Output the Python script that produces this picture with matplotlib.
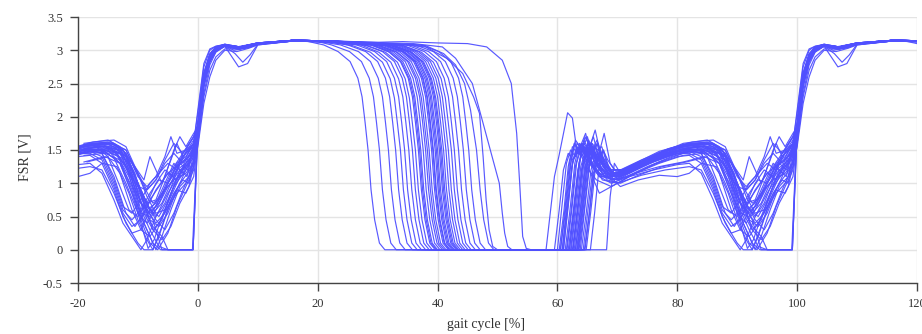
import numpy as np
import matplotlib.pyplot as plt

plt.rcParams['font.family'] = ['Liberation Serif', 'DejaVu Serif']
plt.rcParams['axes.unicode_minus'] = False

# FSR voltage per gait cycle, (gait cycle %, volts) over 0-100 %
cycle_01 = [(0, 1.85), (1, 2.6), (2, 2.92), (3, 3.04), (4.5, 3.08), (7, 3.02), (10, 3.1), (14, 3.14), (18, 3.14), (21, 3.08),
            (23.4, 2.98), (25.4, 2.83), (26.7, 2.58), (27.4, 2.3), (27.9, 1.92), (28.4, 1.5), (28.9, 0.9), (29.5, 0.45), (30.3, 0.1), (31.2, 0),
            (61, 0), (61.8, 0.7), (62.6, 1.35), (63.4, 1.55), (64.3, 1.4), (65.5, 1.3), (67.5, 1.1), (70, 1.15), (74, 1.3), (78, 1.45),
            (82, 1.5), (84, 1.45), (86, 1.1), (88, 0.55), (89.5, 0.35), (91, 0.55), (93, 0.9), (95, 1.15), (97, 1.3), (99.2, 1.45)]
cycle_02 = [(0, 1.8), (1, 2.55), (2, 2.9), (3, 3.03), (4.5, 3.07), (6.5, 3.05), (10, 3.11), (16, 3.15), (20, 3.13),
            (22.3, 3.08), (25.3, 2.98), (27.3, 2.83), (28.6, 2.58), (29.3, 2.3), (29.8, 1.92), (30.3, 1.5), (30.8, 0.9), (31.4, 0.45), (32.2, 0.1), (33.1, 0),
            (62.5, 0), (63.3, 0.6), (64, 1.2), (64.8, 1.45), (65.6, 1.35), (67, 1.15), (69, 1.05), (72, 1.2), (76, 1.35), (80, 1.48),
            (84, 1.5), (86, 1.38), (88, 1.0), (90, 0.55), (91.5, 0.4), (93, 0.6), (95, 0.95), (97, 1.2), (98.2, 1.1), (99.2, 1.5)]
cycle_03 = [(0, 1.75), (1, 2.5), (2, 2.88), (3, 3.02), (4.5, 3.07), (6, 3.03), (8, 3.05), (10, 3.1), (16, 3.15), (21, 3.12),
            (23.8, 3.08), (26.8, 2.98), (28.8, 2.83), (30.1, 2.58), (30.8, 2.3), (31.3, 1.92), (31.8, 1.5), (32.3, 0.9), (32.9, 0.45), (33.7, 0.1), (34.6, 0),
            (60.5, 0), (61.3, 0.55), (62.1, 1.25), (62.9, 1.6), (63.7, 1.45), (64.6, 1.55), (65.8, 1.3), (67.5, 1.05), (70, 1.0), (73, 1.15),
            (77, 1.32), (81, 1.45), (84.5, 1.48), (87, 1.3), (89, 0.85), (90.5, 0.4), (91.7, 0.02), (92.7, 0.15), (94, 0.5), (96, 0.95), (98, 1.2), (99.3, 1.4)]
cycle_04 = [(0, 2.05), (1, 2.75), (2, 3.0), (3, 3.06), (4.5, 3.08), (7, 3.04), (10, 3.1), (16, 3.15), (22, 3.13),
            (25, 3.08), (28, 2.98), (30, 2.83), (31.3, 2.58), (32, 2.3), (32.5, 1.92), (33, 1.5), (33.5, 0.9), (34.1, 0.45), (34.9, 0.1), (35.8, 0),
            (63, 0), (63.8, 0.55), (64.6, 1.2), (65.4, 1.5), (66.2, 1.4), (67.3, 1.2), (69, 1.1), (72, 1.25), (76, 1.4), (80, 1.55),
            (84, 1.58), (87, 1.5), (89, 1.2), (91, 0.75), (92.5, 0.55), (94, 0.7), (95.5, 1.0), (97, 1.3), (98.3, 1.2), (99.2, 1.55)]
cycle_05 = [(0, 1.7), (1, 2.45), (2, 2.82), (3, 2.98), (4.5, 3.06), (6.8, 2.75), (8.3, 2.8), (10, 3.08), (16, 3.14), (22, 3.12),
            (25.8, 3.07), (28.8, 2.97), (30.8, 2.82), (32.1, 2.57), (32.8, 2.28), (33.3, 1.9), (33.8, 1.5), (34.3, 0.9), (34.9, 0.45), (35.7, 0.1), (36.6, 0),
            (59.5, 0), (60.3, 0.6), (61, 1.2), (61.8, 1.45), (62.6, 1.35), (63.6, 1.5), (64.8, 1.25), (66.5, 1.05), (69, 0.95), (72, 1.1),
            (76, 1.28), (80, 1.4), (82, 1.42), (84, 1.3), (86, 0.9), (87.5, 0.5), (89, 0.25), (90.5, 0.3), (92, 0.6), (94, 0.85), (96, 1.05), (98, 1.15), (99.2, 1.3)]
cycle_06 = [(0, 1.82), (1, 2.58), (2, 2.9), (3, 3.03), (4.5, 3.08), (7, 3.05), (10, 3.11), (16, 3.15), (22, 3.13),
            (26.5, 3.08), (29.5, 2.98), (31.5, 2.83), (32.8, 2.58), (33.5, 2.3), (34, 1.92), (34.5, 1.5), (35, 0.9), (35.6, 0.45), (36.4, 0.1), (37.3, 0),
            (62, 0), (62.8, 0.65), (63.6, 1.3), (64.4, 1.6), (65.2, 1.5), (66, 1.55), (67.2, 1.25), (69, 1.1), (72, 1.2), (76, 1.38),
            (80, 1.5), (84, 1.55), (86.5, 1.45), (88.5, 1.15), (90, 0.95), (91.5, 0.9), (93, 1.05), (94.5, 1.3), (96, 1.45), (97.5, 1.3), (99.3, 1.6)]
cycle_07 = [(0, 1.78), (1, 2.52), (2, 2.87), (3, 3.01), (4.5, 3.07), (6.5, 3.03), (10, 3.1), (16, 3.15), (22, 3.13),
            (27.2, 3.08), (30.2, 2.97), (32.2, 2.82), (33.5, 2.57), (34.2, 2.3), (34.7, 1.92), (35.2, 1.5), (35.7, 0.9), (36.3, 0.45), (37.1, 0.1), (38, 0),
            (63.5, 0), (64.3, 0.6), (65.1, 1.25), (65.9, 1.5), (66.8, 1.3), (68.2, 1.1), (70, 1.05), (73, 1.2), (77, 1.38), (81, 1.5),
            (85, 1.5), (87, 1.3), (89, 0.85), (90.5, 0.55), (92, 0.5), (93.5, 0.75), (95, 1.0), (96.5, 1.2), (98, 1.3), (99.3, 1.42)]
cycle_08 = [(0, 1.88), (1, 2.62), (2, 2.93), (3, 3.04), (4.5, 3.08), (7, 3.04), (10, 3.1), (16, 3.15), (22, 3.13),
            (27.8, 3.08), (30.8, 2.98), (32.8, 2.83), (34.1, 2.58), (34.8, 2.3), (35.3, 1.92), (35.8, 1.5), (36.3, 0.9), (36.9, 0.45), (37.7, 0.1), (38.6, 0),
            (60, 0), (60.8, 0.7), (61.5, 1.3), (62.2, 1.5), (63, 1.4), (64, 1.6), (65.2, 1.35), (67, 1.15), (69.5, 1.05), (73, 1.25),
            (77, 1.45), (81, 1.58), (85, 1.62), (87.5, 1.5), (89.5, 1.1), (91, 0.7), (92.5, 0.45), (94, 0.0), (96, 0.0), (99.2, 0)]
cycle_09 = [(0, 1.6), (1, 2.35), (2, 2.78), (3, 2.97), (4.5, 3.06), (6.5, 3.02), (8.5, 3.04), (10, 3.09), (16, 3.14), (22, 3.12),
            (28.3, 3.07), (31.3, 2.97), (33.3, 2.82), (34.6, 2.57), (35.3, 2.28), (35.8, 1.9), (36.3, 1.5), (36.8, 0.9), (37.4, 0.45), (38.2, 0.1), (39.1, 0),
            (64, 0), (64.8, 0.55), (65.6, 1.2), (66.4, 1.45), (67.3, 1.3), (68.5, 1.15), (70.5, 1.1), (74, 1.28), (78, 1.4), (82, 1.48),
            (85.5, 1.45), (88, 1.35), (90, 0.95), (91.5, 0.6), (93, 0.4), (94.5, 0.55), (96, 0.85), (97.5, 1.05), (98.5, 1.0), (99.3, 1.35)]
cycle_10 = [(0, 1.84), (1, 2.6), (2, 2.91), (3, 3.03), (4.5, 3.08), (7, 3.04), (10, 3.1), (16, 3.15), (22, 3.14),
            (28.8, 3.08), (31.8, 2.98), (33.8, 2.83), (35.1, 2.58), (35.8, 2.3), (36.3, 1.92), (36.8, 1.5), (37.3, 0.9), (37.9, 0.45), (38.7, 0.1), (39.6, 0),
            (61.5, 0), (62.3, 0.6), (63, 1.25), (63.8, 1.55), (64.6, 1.4), (65.5, 1.6), (66.5, 1.3), (68, 1.15), (70, 1.1), (73, 1.22),
            (77, 1.4), (81, 1.52), (84.5, 1.55), (87, 1.45), (89, 1.05), (90.5, 0.6), (92, 0.3), (93.5, 0.05), (95, 0.0), (97, 0.0), (99.1, 0)]
cycle_11 = [(0, 1.76), (1, 2.5), (2, 2.86), (3, 3.0), (4.5, 3.07), (6, 3.0), (8, 3.03), (10, 3.09), (16, 3.14), (22, 3.13),
            (29, 3.08), (32, 2.97), (34, 2.82), (35.3, 2.57), (36, 2.3), (36.5, 1.92), (37, 1.5), (37.5, 0.9), (38.1, 0.45), (38.9, 0.1), (39.8, 0),
            (62.8, 0), (63.6, 0.6), (64.4, 1.3), (65.2, 1.65), (66, 1.5), (66.8, 1.6), (67.8, 1.3), (69.5, 1.1), (72, 1.15), (76, 1.32),
            (80, 1.45), (82, 1.48), (84, 1.4), (86, 1.0), (87.5, 0.6), (89, 0.45), (90.5, 0.6), (92, 0.85), (93.5, 1.05), (95, 1.0), (96.5, 1.25), (98, 1.35), (99.3, 1.5)]
cycle_12 = [(0, 1.9), (1, 2.66), (2, 2.95), (3, 3.05), (4.5, 3.09), (7, 3.05), (10, 3.11), (16, 3.15), (22, 3.14),
            (29.2, 3.08), (32.2, 2.98), (34.2, 2.83), (35.5, 2.58), (36.2, 2.3), (36.7, 1.92), (37.2, 1.5), (37.7, 0.9), (38.3, 0.45), (39.1, 0.1), (40, 0),
            (58.1, 0), (59.5, 1.1), (60.3, 1.43), (61.7, 2.06), (62.5, 1.98), (63.3, 1.45), (64.2, 1.55), (65.3, 1.2), (67, 0.85), (70, 1.0),
            (74, 1.12), (78, 1.2), (82, 1.25), (84, 1.2), (86, 0.85), (88, 0.4), (90, 0.1), (91, 0.0), (92.5, 0.0), (94, 0.35), (95.5, 0.75), (97, 1.0), (98.3, 1.15), (99.3, 1.3)]
cycle_13 = [(0, 1.8), (1, 2.55), (2, 2.89), (3, 3.02), (4.5, 3.07), (7, 3.03), (10, 3.1), (16, 3.15), (22, 3.14),
            (29.6, 3.08), (32.6, 2.98), (34.6, 2.83), (35.9, 2.58), (36.6, 2.3), (37.1, 1.92), (37.6, 1.5), (38.1, 0.9), (38.7, 0.45), (39.5, 0.1), (40.4, 0),
            (64.5, 0), (65.3, 0.55), (66, 1.15), (66.8, 1.4), (67.8, 1.75), (68.8, 1.3), (70, 1.15), (73, 1.25), (77, 1.42), (81, 1.55),
            (85, 1.58), (87.5, 1.5), (89.5, 1.25), (91, 1.05), (92, 1.4), (93, 1.2), (94, 1.0), (95.5, 1.35), (96.5, 1.6), (97.5, 1.4), (99.3, 1.65)]
cycle_14 = [(0, 1.86), (1, 2.6), (2, 2.92), (3, 3.04), (4.5, 3.08), (7, 3.04), (10, 3.1), (16, 3.15), (22, 3.14),
            (30, 3.08), (33, 2.98), (35, 2.83), (36.3, 2.58), (37, 2.3), (37.5, 1.92), (38, 1.5), (38.5, 0.9), (39.1, 0.45), (39.9, 0.1), (40.8, 0),
            (61, 0), (61.8, 0.65), (62.5, 1.3), (63.3, 1.6), (64.1, 1.5), (65, 1.7), (66, 1.35), (67.5, 1.15), (70, 1.1), (73, 1.25),
            (77, 1.45), (81, 1.6), (85, 1.65), (87, 1.55), (88.5, 1.2), (90, 0.8), (91.5, 0.55), (93, 0.65), (94.5, 0.95), (96, 1.25), (97.5, 1.45), (99.3, 1.7)]
cycle_15 = [(0, 1.55), (1, 2.2), (2, 2.6), (3, 2.85), (4.5, 3.0), (6.5, 2.98), (8.5, 3.03), (10, 3.08), (16, 3.14), (22, 3.13),
            (30.3, 3.07), (33.3, 2.97), (35.3, 2.82), (36.6, 2.57), (37.3, 2.28), (37.8, 1.9), (38.3, 1.5), (38.8, 0.9), (39.4, 0.45), (40.2, 0.1), (41.1, 0),
            (63.3, 0), (64.1, 0.6), (64.9, 1.25), (65.7, 1.5), (66.6, 1.4), (68, 1.2), (70, 1.15), (74, 1.3), (78, 1.48), (82, 1.58),
            (85.5, 1.6), (87.5, 1.5), (89.5, 1.15), (91, 0.7), (92.5, 0.3), (94, 0.15), (95.5, 0.35), (97, 0.7), (98.5, 0.95), (99.4, 1.3)]
cycle_16 = [(0, 1.83), (1, 2.58), (2, 2.9), (3, 3.03), (4.5, 3.08), (7, 3.05), (10, 3.1), (16, 3.15), (22, 3.14),
            (30.6, 3.08), (33.6, 2.98), (35.6, 2.83), (36.9, 2.58), (37.6, 2.3), (38.1, 1.92), (38.6, 1.5), (39.1, 0.9), (39.7, 0.45), (40.5, 0.1), (41.4, 0),
            (60.8, 0), (61.6, 0.7), (62.3, 1.35), (63, 1.65), (63.8, 1.55), (64.7, 1.75), (65.7, 1.4), (67, 1.2), (69.5, 1.15), (73, 1.3),
            (77, 1.48), (81, 1.58), (83, 1.55), (85, 1.4), (87, 0.95), (88.5, 0.6), (90, 0.5), (91.5, 0.7), (93, 1.0), (94.5, 1.2), (96, 1.1), (97.5, 1.45), (99.3, 1.6)]
cycle_17 = [(0, 1.78), (1, 2.53), (2, 2.87), (3, 3.01), (4.5, 3.07), (7, 3.03), (10, 3.1), (16, 3.15), (22, 3.14),
            (31, 3.08), (34, 2.98), (36, 2.83), (37.3, 2.58), (38, 2.3), (38.5, 1.92), (39, 1.5), (39.5, 0.9), (40.1, 0.45), (40.9, 0.1), (41.8, 0),
            (62.3, 0), (63.1, 0.6), (63.9, 1.25), (64.7, 1.5), (65.5, 1.35), (66.4, 1.45), (67.5, 1.2), (69, 1.05), (71.5, 1.1), (75, 1.25),
            (79, 1.4), (83, 1.5), (86, 1.48), (88, 1.25), (89.5, 0.85), (91, 0.4), (92.5, 0.1), (93.8, 0.0), (96, 0.0), (98, 0.0), (99.2, 0)]
cycle_18 = [(0, 1.88), (1, 2.63), (2, 2.93), (3, 3.04), (4.5, 3.08), (7, 3.05), (10, 3.11), (16, 3.15), (22, 3.14),
            (31.3, 3.08), (34.3, 2.98), (36.3, 2.83), (37.6, 2.58), (38.3, 2.3), (38.8, 1.92), (39.3, 1.5), (39.8, 0.9), (40.4, 0.45), (41.2, 0.1), (42.1, 0),
            (64.3, 0), (65.1, 0.6), (65.9, 1.2), (66.7, 1.45), (67.5, 1.3), (68.7, 1.2), (70.5, 1.2), (74, 1.35), (78, 1.5), (82, 1.6),
            (85.5, 1.62), (88, 1.5), (90, 1.1), (91.5, 0.95), (93, 1.1), (94.5, 1.4), (95.5, 1.7), (96.5, 1.45), (98, 1.5), (99.3, 1.7)]
cycle_19 = [(0, 1.74), (1, 2.48), (2, 2.85), (3, 3.0), (4.5, 3.06), (6.2, 2.95), (7.5, 2.82), (8.7, 2.93), (10, 3.09), (16, 3.14), (22, 3.13),
            (31.6, 3.07), (34.6, 2.97), (36.6, 2.82), (37.9, 2.57), (38.6, 2.28), (39.1, 1.9), (39.6, 1.5), (40.1, 0.9), (40.7, 0.45), (41.5, 0.1), (42.4, 0),
            (61.8, 0), (62.6, 0.55), (63.4, 1.2), (64.2, 1.5), (65, 1.4), (65.8, 1.55), (66.8, 1.25), (68.3, 1.05), (70.5, 1.0), (73.5, 1.12),
            (77.5, 1.25), (81.5, 1.32), (85, 1.4), (87, 1.15), (89, 0.6), (90.5, 0.3), (92, 0.2), (93.5, 0.4), (95, 0.65), (96.5, 0.85), (98, 1.0), (99.3, 1.25)]
cycle_20 = [(0, 1.82), (1, 2.57), (2, 2.9), (3, 3.03), (4.5, 3.08), (7, 3.04), (10, 3.1), (16, 3.15), (22, 3.14),
            (31.8, 3.08), (34.8, 2.98), (36.8, 2.83), (38.1, 2.58), (38.8, 2.3), (39.3, 1.92), (39.8, 1.5), (40.3, 0.9), (40.9, 0.45), (41.7, 0.1), (42.6, 0),
            (63, 0), (63.8, 0.6), (64.6, 1.3), (65.4, 1.6), (66.2, 1.45), (67, 1.5), (68, 1.25), (69.5, 1.1), (72, 1.2), (76, 1.38),
            (80, 1.52), (84, 1.56), (86.5, 1.5), (88.5, 1.3), (90.5, 0.9), (92, 0.6), (93.5, 0.5), (95, 0.75), (96.5, 1.05), (98, 1.35), (99.3, 1.55)]
cycle_21 = [(0, 2.1), (1, 2.8), (2, 3.02), (3, 3.06), (4.5, 3.09), (7, 3.05), (10, 3.11), (16, 3.15), (22, 3.14),
            (32, 3.08), (35, 2.98), (37, 2.83), (38.3, 2.58), (39, 2.3), (39.5, 1.92), (40, 1.5), (40.5, 0.9), (41.1, 0.45), (41.9, 0.1), (42.8, 0),
            (60.3, 0), (61.1, 0.6), (61.8, 1.25), (62.5, 1.55), (63.3, 1.45), (64.2, 1.6), (65.3, 1.3), (67, 1.1), (69.5, 1.1), (73, 1.28),
            (77, 1.45), (81, 1.56), (85, 1.6), (87, 1.48), (89, 1.05), (90.5, 0.7), (92, 0.55), (93.5, 0.7), (95, 1.0), (96.5, 1.3), (98, 1.4), (99.3, 1.6)]
cycle_22 = [(0, 1.76), (1, 2.5), (2, 2.86), (3, 3.0), (4.5, 3.07), (7, 3.03), (10, 3.1), (16, 3.15), (22, 3.14),
            (32.3, 3.08), (35.3, 2.98), (37.3, 2.83), (38.6, 2.58), (39.3, 2.3), (39.8, 1.92), (40.3, 1.5), (40.8, 0.9), (41.4, 0.45), (42.2, 0.1), (43.1, 0),
            (62.6, 0), (63.4, 0.6), (64.2, 1.3), (65, 1.6), (65.8, 1.5), (66.6, 1.65), (67.6, 1.3), (69, 1.15), (71.5, 1.15), (75, 1.3),
            (79, 1.45), (83, 1.55), (86, 1.55), (88, 1.4), (89.5, 1.0), (91, 0.6), (92.5, 0.35), (94, 0.2), (95, 0.0), (97.5, 0.0), (99.2, 0)]
cycle_23 = [(0, 1.86), (1, 2.61), (2, 2.92), (3, 3.04), (4.5, 3.08), (7, 3.04), (10, 3.1), (16, 3.15), (22, 3.14),
            (32.5, 3.08), (35.5, 2.98), (37.5, 2.83), (38.8, 2.58), (39.5, 2.3), (40, 1.92), (40.5, 1.5), (41, 0.9), (41.6, 0.45), (42.4, 0.1), (43.3, 0),
            (63.8, 0), (64.6, 0.65), (65.4, 1.3), (66.2, 1.55), (67, 1.4), (68, 1.25), (69.5, 1.15), (72.5, 1.25), (76.5, 1.4), (80, 1.5),
            (82, 1.5), (84, 1.45), (86, 1.05), (87.5, 0.65), (89, 0.55), (90.5, 0.75), (92, 1.0), (93.5, 1.15), (95, 1.3), (96.5, 1.2), (98, 1.45), (99.3, 1.55)]
cycle_24 = [(0, 1.72), (1, 2.46), (2, 2.83), (3, 2.99), (4.5, 3.06), (7, 3.02), (10, 3.09), (16, 3.14), (22, 3.13),
            (32.7, 3.07), (35.7, 2.97), (37.7, 2.82), (39, 2.57), (39.7, 2.28), (40.2, 1.9), (40.7, 1.5), (41.2, 0.9), (41.8, 0.45), (42.6, 0.1), (43.5, 0),
            (61.3, 0), (62.1, 0.6), (62.9, 1.3), (63.7, 1.6), (64.5, 1.5), (65.3, 1.6), (66.3, 1.3), (67.8, 1.1), (70, 1.05), (73, 1.15),
            (77, 1.25), (81, 1.32), (84.5, 1.4), (87, 1.3), (89, 0.95), (90.5, 0.5), (92, 0.2), (93, 0.0), (94, 0.2), (95.5, 0.6), (97, 0.95), (98.5, 1.1), (99.3, 1.35)]
cycle_25 = [(0, 1.84), (1, 2.59), (2, 2.91), (3, 3.03), (4.5, 3.08), (7, 3.05), (10, 3.1), (16, 3.15), (22, 3.14),
            (33, 3.08), (36, 2.98), (38, 2.83), (39.3, 2.58), (40, 2.3), (40.5, 1.92), (41, 1.5), (41.5, 0.9), (42.1, 0.45), (42.9, 0.1), (43.8, 0),
            (64.8, 0), (65.6, 0.6), (66.3, 1.2), (67.1, 1.45), (67.9, 1.35), (69, 1.2), (71, 1.2), (74.5, 1.35), (78.5, 1.5), (82.5, 1.6),
            (86, 1.6), (88, 1.45), (90, 1.0), (91.5, 0.7), (93, 0.75), (94.5, 1.1), (96, 1.5), (97, 1.7), (98, 1.55), (99.3, 1.75)]
cycle_26 = [(0, 1.8), (1, 2.55), (2, 2.89), (3, 3.02), (4.5, 3.07), (7, 3.03), (10, 3.1), (16, 3.15), (22, 3.14),
            (33.4, 3.08), (36.4, 2.98), (38.4, 2.83), (39.7, 2.58), (40.4, 2.3), (40.9, 1.92), (41.4, 1.5), (41.9, 0.9), (42.5, 0.45), (43.3, 0.1), (44.2, 0),
            (62, 0), (62.8, 0.6), (63.6, 1.3), (64.4, 1.65), (65.2, 1.5), (66, 1.7), (67, 1.35), (68.5, 1.15), (70.5, 1.1), (74, 1.25),
            (78, 1.4), (82, 1.5), (85.5, 1.52), (88, 1.4), (90, 1.0), (91.5, 0.7), (93, 0.45), (94.5, 0.3), (96, 0.55), (97.5, 0.9), (98.5, 1.1), (99.3, 1.45)]
cycle_27 = [(0, 1.9), (1, 2.65), (2, 2.94), (3, 3.05), (4.5, 3.09), (7, 3.05), (10, 3.11), (16, 3.15), (22, 3.14),
            (33.8, 3.08), (36.8, 2.98), (38.8, 2.83), (40.1, 2.58), (40.8, 2.3), (41.3, 1.92), (41.8, 1.5), (42.3, 0.9), (42.9, 0.45), (43.7, 0.1), (44.6, 0),
            (63.2, 0), (64, 0.6), (64.8, 1.3), (65.6, 1.55), (66.4, 1.4), (67.2, 1.5), (68.2, 1.25), (69.8, 1.1), (72.5, 1.2), (76.5, 1.38),
            (80.5, 1.5), (84, 1.52), (86.5, 1.42), (88.5, 1.1), (90, 0.75), (91.5, 0.6), (93, 0.7), (94.5, 1.0), (96, 1.3), (97.5, 1.15), (99.3, 1.5)]
cycle_28 = [(0, 1.75), (1, 2.49), (2, 2.85), (3, 3.0), (4.5, 3.06), (7, 3.02), (10, 3.09), (16, 3.14), (22, 3.13),
            (34.3, 3.07), (37.3, 2.97), (39.3, 2.82), (40.6, 2.57), (41.3, 2.28), (41.8, 1.9), (42.3, 1.5), (42.8, 0.9), (43.4, 0.45), (44.2, 0.1), (45.1, 0),
            (60.5, 0), (61.3, 0.65), (62, 1.3), (62.8, 1.6), (63.6, 1.45), (64.5, 1.55), (65.5, 1.3), (67, 1.1), (69, 1.0), (72, 1.1),
            (76, 1.2), (80, 1.28), (82, 1.3), (84, 1.15), (86, 0.75), (87.5, 0.4), (89, 0.2), (90.5, 0.0), (91.5, 0.15), (93, 0.5), (95, 0.85), (97, 1.15), (98.5, 1.3), (99.3, 1.45)]
cycle_29 = [(0, 1.85), (1, 2.6), (2, 2.92), (3, 3.04), (4.5, 3.08), (7, 3.04), (10, 3.1), (16, 3.15), (22, 3.14),
            (34.8, 3.08), (37.8, 2.98), (39.8, 2.83), (41.1, 2.58), (41.8, 2.3), (42.3, 1.92), (42.8, 1.5), (43.3, 0.9), (43.9, 0.45), (44.7, 0.1), (45.6, 0),
            (61.6, 0), (62.4, 0.6), (63.2, 1.3), (64, 1.55), (64.8, 1.45), (65.7, 1.6), (66.7, 1.3), (68.2, 1.15), (70.5, 1.15), (74, 1.3),
            (78, 1.48), (82, 1.58), (85.5, 1.6), (88, 1.5), (90, 1.15), (91.5, 0.8), (93, 0.55), (94.5, 0.6), (96, 0.9), (97.5, 1.2), (98.5, 1.4), (99.3, 1.55)]
cycle_30 = [(0, 1.78), (1, 2.52), (2, 2.87), (3, 3.01), (4.5, 3.07), (7, 3.03), (10, 3.1), (16, 3.15), (22, 3.14),
            (35.5, 3.08), (38.5, 2.98), (40.5, 2.83), (41.8, 2.58), (42.5, 2.3), (43, 1.92), (43.5, 1.5), (44, 0.9), (44.6, 0.45), (45.4, 0.1), (46.3, 0),
            (63.6, 0), (64.4, 0.55), (65.2, 1.2), (66, 1.5), (66.8, 1.35), (67.7, 1.5), (68.7, 1.2), (70.2, 1.05), (73, 1.15), (77, 1.3),
            (81, 1.42), (84.5, 1.45), (87, 1.35), (89, 0.9), (90.5, 0.45), (92, 0.1), (93.3, 0.0), (95, 0.25), (96.5, 0.65), (98, 0.95), (99.3, 1.2)]
cycle_31 = [(0, 1.88), (1, 2.62), (2, 2.93), (3, 3.04), (4.5, 3.08), (7, 3.05), (10, 3.11), (16, 3.15), (22, 3.14),
            (36.3, 3.08), (39.3, 2.98), (41.3, 2.83), (42.6, 2.58), (43.3, 2.3), (43.8, 1.92), (44.3, 1.5), (44.8, 0.9), (45.4, 0.45), (46.2, 0.1), (47.1, 0),
            (62.2, 0), (63, 0.65), (63.8, 1.35), (64.6, 1.7), (65.4, 1.55), (66.3, 1.8), (67.3, 1.4), (68.8, 1.2), (71, 1.2), (74.5, 1.35),
            (78.5, 1.52), (82.5, 1.62), (86, 1.65), (88, 1.55), (90, 1.15), (91.5, 0.9), (93, 1.05), (94.5, 1.35), (96, 1.6), (97.5, 1.45), (99.3, 1.7)]
cycle_32 = [(0, 1.6), (1, 2.3), (2, 2.7), (3, 2.9), (4.5, 3.02), (7, 3.02), (10, 3.09), (16, 3.14), (22, 3.13),
            (37.2, 3.08), (40.2, 2.98), (42.2, 2.83), (43.5, 2.58), (44.2, 2.3), (44.7, 1.92), (45.2, 1.5), (45.7, 0.9), (46.3, 0.45), (47.1, 0.1), (48, 0),
            (64.6, 0), (65.3, 0.5), (66, 1.1), (66.8, 1.4), (67.6, 1.3), (68.8, 1.1), (70.5, 0.95), (73.5, 1.05), (77, 1.12), (80, 1.1),
            (82, 1.15), (84, 1.3), (86.5, 1.25), (88.5, 0.85), (90, 0.45), (91.5, 0.15), (92.5, 0.0), (93.5, 0.2), (95, 0.6), (96.5, 0.9), (98, 0.85), (99.3, 1.1)]
cycle_33 = [(0, 1.82), (1, 2.57), (2, 2.9), (3, 3.03), (4.5, 3.08), (7, 3.04), (10, 3.1), (16, 3.15), (22, 3.14), (32, 3.1),
            (38, 3.07), (41, 2.95), (43, 2.78), (44.5, 2.5), (45.5, 2.1), (46, 1.8), (46.5, 1.5), (47.1, 0.9), (47.7, 0.45), (48.5, 0.1), (49.4, 0),
            (60.8, 0), (61.6, 0.6), (62.4, 1.25), (63.2, 1.5), (64, 1.4), (64.9, 1.55), (65.9, 1.25), (67.4, 1.1), (69.5, 1.05), (73, 1.2),
            (77, 1.38), (81, 1.5), (85, 1.52), (87.5, 1.42), (89.5, 1.0), (91, 0.55), (92.5, 0.3), (94, 0.45), (95.5, 0.85), (97, 1.2), (98.5, 1.3), (99.3, 1.5)]
cycle_34 = [(0, 1.8), (1, 2.55), (2, 2.89), (3, 3.02), (4.5, 3.07), (7, 3.03), (10, 3.1), (16, 3.15), (22, 3.14), (32, 3.1),
            (38, 3.05), (41.5, 2.88), (44.2, 2.65), (46, 2.3), (47, 2.05), (47.6, 1.4), (48.1, 0.75), (48.6, 0.3), (49.2, 0.05), (50, 0),
            (63.4, 0), (64.2, 0.6), (65, 1.3), (65.8, 1.6), (66.6, 1.5), (67.4, 1.55), (68.4, 1.25), (70, 1.1), (73, 1.22), (77, 1.4),
            (81, 1.52), (84.5, 1.55), (87, 1.5), (89, 1.3), (91, 0.95), (92.5, 0.7), (94, 0.8), (95.5, 1.1), (97, 1.35), (98.5, 1.5), (99.3, 1.6)]
cycle_35 = [(0, 1.86), (1, 2.6), (2, 2.92), (3, 3.04), (4.5, 3.08), (7, 3.04), (10, 3.1), (16, 3.15), (22, 3.14), (32, 3.11),
            (36, 3.1), (40.8, 3.05), (43, 2.88), (45.8, 2.5), (47, 2.1), (50.3, 1.0), (50.8, 0.55), (51.2, 0.25), (51.7, 0.05), (52.4, 0),
            (62.6, 0), (63.4, 0.6), (64.2, 1.25), (65, 1.5), (65.8, 1.4), (66.6, 1.6), (67.6, 1.25), (69.2, 1.1), (72, 1.2), (76, 1.35),
            (80, 1.45), (82, 1.45), (84, 1.35), (86, 0.95), (87.5, 0.55), (89, 0.35), (90.5, 0.45), (92, 0.75), (93.5, 0.95), (95, 1.15), (96.5, 1.05), (98, 1.3), (99.3, 1.45)]
cycle_36 = [(0, 1.8), (1, 2.55), (2, 2.89), (3, 3.02), (4.5, 3.07), (7, 3.03), (10, 3.1), (16, 3.15), (22, 3.14), (30, 3.12),
            (34.2, 3.13), (40, 3.11), (45, 3.1), (48.2, 3.05), (50.8, 2.85), (52.3, 2.5), (53.2, 1.75), (53.7, 1.0), (54.2, 0.2), (54.8, 0.02), (55.6, 0),
            (65.5, 0), (66.2, 0.55), (66.9, 1.2), (67.6, 1.5), (68.4, 1.35), (69.5, 1.2), (71.5, 1.2), (75, 1.35), (79, 1.5), (83, 1.58),
            (86, 1.58), (88, 1.45), (90, 1.0), (91.5, 0.65), (93, 0.5), (94.5, 0.7), (96, 1.05), (97.5, 1.4), (99.3, 1.6)]
cycle_37 = [(0, 1.8), (1, 2.54), (2, 2.88), (3, 3.02), (4.5, 3.07), (7, 3.03), (10, 3.1), (16, 3.15), (22, 3.14),
            (31.2, 3.08), (34.2, 2.98), (36.2, 2.83), (37.5, 2.58), (38.2, 2.3), (38.7, 1.92), (39.2, 1.5), (39.7, 0.9), (40.3, 0.45), (41.1, 0.1), (42, 0),
            (68.2, 0), (68.8, 0.8), (69.5, 1.3), (70.5, 1.15), (72.5, 1.2), (76, 1.32), (80, 1.45), (84, 1.5), (86.5, 1.45), (88.5, 1.2),
            (90.5, 0.8), (92, 0.45), (93.5, 0.35), (95, 0.55), (96.5, 0.9), (98, 1.2), (99.3, 1.5)]

cycles = [cycle_01, cycle_02, cycle_03, cycle_04, cycle_05, cycle_06, cycle_07, cycle_08, cycle_09, cycle_10,
          cycle_11, cycle_12, cycle_13, cycle_14, cycle_15, cycle_16, cycle_17, cycle_18, cycle_19, cycle_20,
          cycle_21, cycle_22, cycle_23, cycle_24, cycle_25, cycle_26, cycle_27, cycle_28, cycle_29, cycle_30,
          cycle_31, cycle_32, cycle_33, cycle_34, cycle_35, cycle_36, cycle_37]

x_ticks = [-20, 0, 20, 40, 60, 80, 100, 120]
y_ticks = [-0.5, 0, 0.5, 1, 1.5, 2, 2.5, 3, 3.5]


def wrapped(points):
    # show the end of the cycle before 0 % and its start again after 100 %
    before = [(x - 100, y) for x, y in points if x >= 78]
    after = [(x + 100, y) for x, y in points if x <= 22]
    pts = before + points + after
    return [p[0] for p in pts], [p[1] for p in pts]


fig = plt.figure(figsize=(9.22, 3.34), dpi=100)
ax = fig.add_axes([78 / 922, 51 / 334, 839 / 922, 266 / 334])

for cyc in cycles:
    xs, ys = wrapped(cyc)
    ax.plot(xs, ys, color='#5050ff', lw=0.85, alpha=0.95)

ax.set_xlim(-20, 120)
ax.set_ylim(-0.5, 3.5)
ax.set_xticks(x_ticks)
ax.set_yticks(y_ticks)
ax.set_yticklabels([f'{v:g}' for v in y_ticks])
ax.grid(True, color='#e4e4e4', lw=1)
ax.set_axisbelow(True)

for side in ['top', 'right']:
    ax.spines[side].set_visible(False)
for side in ['left', 'bottom']:
    ax.spines[side].set_color('#444444')
    ax.spines[side].set_linewidth(1)

ax.tick_params(direction='out', length=6, width=1, color='#444444',
               labelsize=9, labelcolor='#333333', pad=5)
ax.set_xlabel('gait cycle [%]', fontsize=10, color='#333333')
ax.xaxis.set_label_coords(0.486, -0.13)
ax.set_ylabel('FSR [V]', fontsize=10, color='#333333')
ax.yaxis.set_label_coords(-0.056, 0.474)

fig.savefig('out.png', dpi=100)
